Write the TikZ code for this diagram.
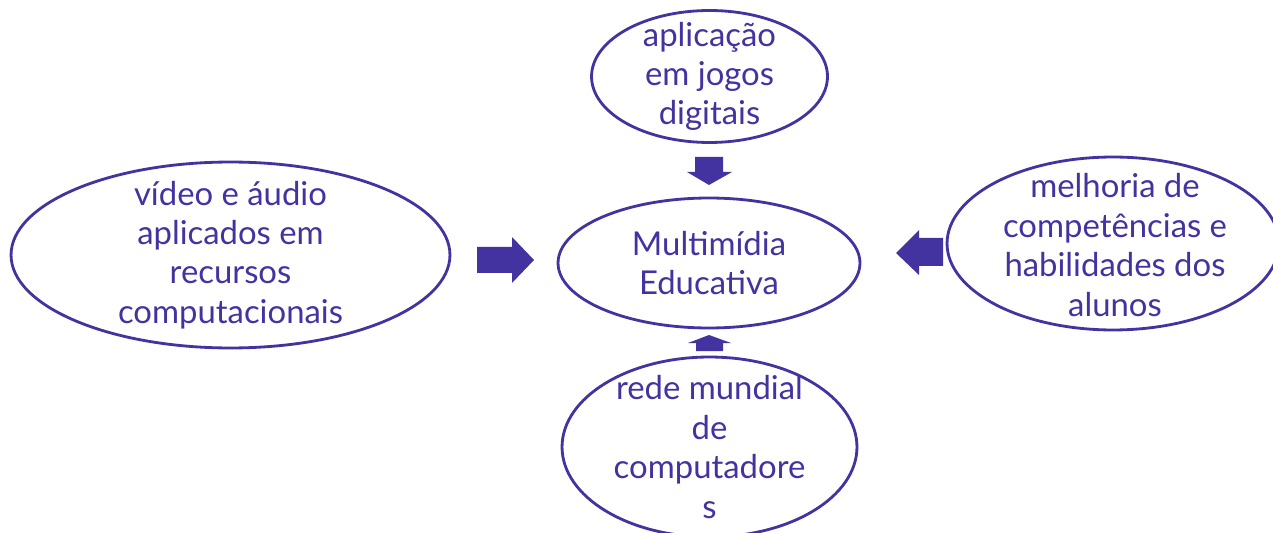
\documentclass[tikz,border=0pt]{standalone}
\usepackage{fontspec}
\setmainfont{Lato}
\usetikzlibrary{shapes.geometric}
\definecolor{roxo}{HTML}{4333A0}

\tikzset{
  bolha/.style={ellipse, draw=roxo, line width=1.6pt, inner sep=0pt},
  texto/.style={align=center, text=roxo, inner sep=0pt, font=\fontsize{18.7}{22.4}\selectfont},
  seta/.style={fill=roxo}
}

\begin{document}
\begin{tikzpicture}[x=0.02cm, y=-0.02cm]
	%%%%% START %%%%%
	\useasboundingbox (0,0) rectangle (1273,533);
	
	% bolhas
	\node[bolha, minimum width=6.04cm, minimum height=2.6cm] (centro) at (709,263) {};
	\node[bolha, minimum width=4.72cm, minimum height=2.64cm] (jogos) at (709.5,76.5) {};
	\node[bolha, minimum width=8.78cm, minimum height=3.72cm] (video) at (230.5,255) {};
	\node[bolha, minimum width=6.64cm, minimum height=3.46cm] (melhoria) at (1113,243.5) {};
	\node[bolha, minimum width=5.9cm, minimum height=3.6cm] (rede) at (709.5,447) {};
	
	% textos
	\node[texto] (centrotxt) at (centro) {Multimídia\\Educativa};
	\node[texto] (jogostxt) at (jogos) {aplicação\\em jogos\\digitais};
	\node[texto] (videotxt) at (video) {vídeo e áudio\\aplicados em\\recursos\\computacionais};
	\node[texto] (melhoriatxt) at (1115,245) {melhoria de\\competências e\\habilidades dos\\alunos};
	\node[texto] (redetxt) at (709.5,447) {rede mundial\\de\\computadore\\s};
	
	% setas
	\fill[seta] (477,247) -- (512,247) -- (512,237) -- (534,260) -- (512,283) -- (512,273) -- (477,273) -- cycle;
	\fill[seta] (695,157) -- (723,157) -- (723,172) -- (732,172) -- (709,185) -- (687,172) -- (695,172) -- cycle;
	\fill[seta] (943,238) -- (919,238) -- (919,230) -- (896,253) -- (919,275) -- (919,266) -- (943,266) -- cycle;
	\fill[seta] (709,335) -- (731,343) -- (723,343) -- (723,351) -- (696,351) -- (696,343) -- (688,343) -- cycle;
	
	%%%%% END %%%%%
\end{tikzpicture}
\end{document}
